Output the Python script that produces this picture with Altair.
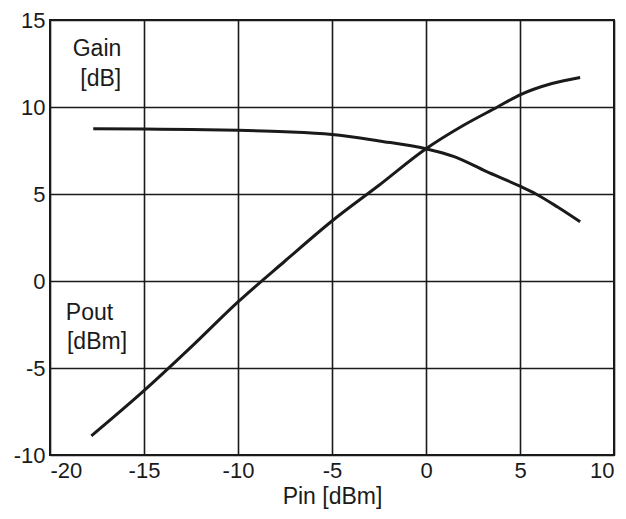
import altair as alt
import pandas as pd

# Gain curve [dB] vs Pin [dBm]
pin_gain = [-17.7, -15, -12.5, -10, -7.5, -5, -2.5, 0, 1.5, 3.2, 5, 5.85, 7, 8.2]
gain = [8.75, 8.73, 8.7, 8.66, 8.58, 8.42, 8.05, 7.6, 7.15, 6.3, 5.45, 5.0, 4.25, 3.4]

# Pout curve [dBm] vs Pin [dBm]
pin_pout = [-17.8, -15, -12.5, -10, -7.5, -5, -2.5, 0, 2, 3.8, 5, 6.7, 8.2]
pout = [-8.9, -6.3, -3.8, -1.2, 1.15, 3.45, 5.5, 7.6, 8.95, 10.0, 10.7, 11.35, 11.7]

x_ticks = [-20, -15, -10, -5, 0, 5, 10]
y_ticks = [-10, -5, 0, 5, 10, 15]

label_text = ["Gain", "[dB]", "Pout", "[dBm]"]
label_x = [-17.5, -17.3, -17.9, -17.5]
label_y = [13.35, 11.6, -1.85, -3.5]

df = pd.concat([
    pd.DataFrame({"pin": pin_gain, "val": gain, "series": "Gain"}),
    pd.DataFrame({"pin": pin_pout, "val": pout, "series": "Pout"}),
])
lab = pd.DataFrame({"t": label_text, "x": label_x, "y": label_y})

FONT = "Liberation Sans"
INK = "#1a1a1a"

xs = alt.Scale(domain=[-20, 10], nice=False, zero=False)
ys = alt.Scale(domain=[-10, 15], nice=False, zero=False)

lines = alt.Chart(df).mark_line(color=INK, strokeWidth=3, interpolate="monotone").encode(
    x=alt.X("pin:Q", scale=xs,
            axis=alt.Axis(values=x_ticks, title="Pin [dBm]", grid=True, ticks=False,
                          domain=False, labelPadding=5, titlePadding=4,
                          labelExpr="datum.value + ''")),
    y=alt.Y("val:Q", scale=ys,
            axis=alt.Axis(values=y_ticks, title=None, grid=True, ticks=False,
                          domain=False, labelPadding=5,
                          labelExpr="datum.value + ''")),
    detail="series:N",
)

texts = alt.Chart(lab).mark_text(font=FONT, fontSize=23, color=INK, align="center",
                                 baseline="middle").encode(
    x=alt.X("x:Q", scale=xs),
    y=alt.Y("y:Q", scale=ys),
    text="t:N",
)

chart = (lines + texts).properties(
    width=564, height=435,
    autosize=alt.AutoSizeParams(type="none"),
    padding={"left": 42, "top": 12, "right": 4, "bottom": 56},
    background="white",
).configure_view(
    stroke=INK, strokeWidth=2
).configure_axis(
    gridColor=INK, gridWidth=1.6, gridOpacity=1,
    labelFont=FONT, labelFontSize=22, labelColor=INK,
    titleFont=FONT, titleFontSize=23, titleColor=INK, titleFontWeight="normal",
)

chart.save("out.html", embed_options={"renderer": "svg", "actions": False})
